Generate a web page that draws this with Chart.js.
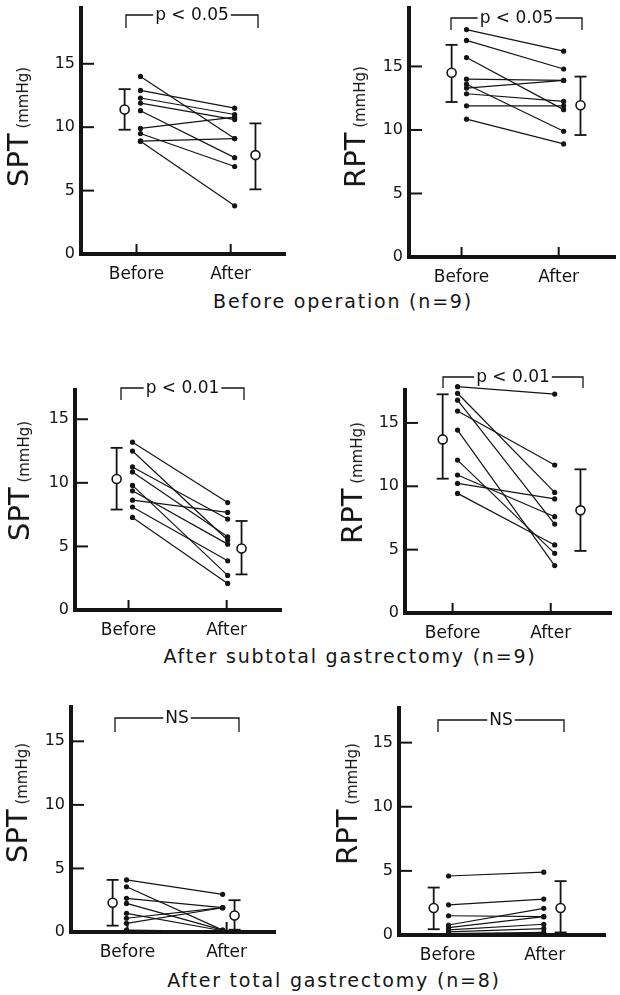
<!DOCTYPE html>
<html>
<head>
<meta charset="utf-8">
<script src="https://cdn.jsdelivr.net/npm/chart.js@4.4.1/dist/chart.umd.min.js"></script>
<style>
  body { margin: 0; background: #fff; }
  #page { position: relative; width: 620px; height: 995px; overflow: hidden; color: #141414;
          font-family: "DejaVu Sans", sans-serif; }
  #page canvas { position: absolute; }
  .cap { position: absolute; font-size: 19px; letter-spacing: 1.8px; white-space: nowrap;
         transform: translate(-50%, -50%); }
  .ytitle { position: absolute; font-size: 29px; line-height: 29px; white-space: nowrap;
            transform: translate(-50%, -50%) rotate(-90deg); }
  .ytitle span { font-size: 15px; }
</style>
</head>
<body>
<div id="page">
  <div class="cap" style="left:343px;top:301px">Before operation (n=9)</div>
  <div class="cap" style="left:350px;top:656px">After subtotal gastrectomy (n=9)</div>
  <div class="cap" style="left:334px;top:980px">After total gastrectomy (n=8)</div>
</div>
<script>
const periods = ["Before", "After"];
const yTicks = [0, 5, 10, 15];

// before operation (n=9)
const sptPreBefore = [14.0, 12.9, 12.3, 11.9, 11.3, 9.9, 9.5, 8.9, 8.9];
const sptPreAfter  = [9.1, 11.5, 11.0, 10.6, 7.6, 10.8, 6.9, 9.1, 3.8];
const sptPreLo   = [9.8, 5.1];
const sptPreMean = [11.4, 7.8];
const sptPreHi   = [13.0, 10.3];

const rptPreBefore = [17.9, 17.05, 15.7, 14.0, 13.6, 13.3, 12.85, 11.9, 10.85];
const rptPreAfter  = [16.2, 14.8, 11.6, 13.9, 9.9, 13.9, 12.25, 11.9, 8.9];
const rptPreLo   = [12.2, 9.6];
const rptPreMean = [14.5, 11.95];
const rptPreHi   = [16.7, 14.2];

// after subtotal gastrectomy (n=9)
const sptSubBefore = [13.2, 12.5, 11.25, 10.86, 9.8, 9.37, 8.64, 8.1, 7.28];
const sptSubAfter  = [8.45, 5.5, 7.15, 5.76, 2.72, 5.18, 7.67, 3.87, 2.09];
const sptSubLo   = [7.9, 2.8];
const sptSubMean = [10.3, 4.84];
const sptSubHi   = [12.75, 7.0];

const rptSubBefore = [17.86, 17.34, 16.8, 15.94, 14.44, 12.07, 10.89, 10.23, 9.44];
const rptSubAfter  = [17.28, 9.52, 7.02, 11.68, 3.74, 4.71, 7.6, 9.0, 5.37];
const rptSubLo   = [10.6, 4.9];
const rptSubMean = [13.7, 8.1];
const rptSubHi   = [17.26, 11.34];

// after total gastrectomy (n=8)
const sptTotBefore = [4.1, 3.56, 2.65, 2.25, 1.47, 1.08, 0.68, 0.15];
const sptTotAfter  = [2.96, 0.15, 1.91, 0.15, 0.1, 1.91, 1.91, 0.05];
const sptTotLo   = [0.5, 0.18];
const sptTotMean = [2.3, 1.3];
const sptTotHi   = [4.1, 2.5];

const rptTotBefore = [4.6, 2.35, 1.5, 0.78, 0.57, 0.4, 0.25, 0.1];
const rptTotAfter  = [4.9, 2.8, 1.43, 2.08, 1.43, 0.84, 0.5, 0.2];
const rptTotLo   = [0.45, 0.2];
const rptTotMean = [2.1, 2.1];
const rptTotHi   = [3.7, 4.2];

const INK = "#141414";
const FONT = '"DejaVu Sans", sans-serif';

// page pixel geometry of each panel (axes box, ticks, marks, bracket, title)
const panels = [
  { title: "SPT", before: sptPreBefore, after: sptPreAfter, lo: sptPreLo, mean: sptPreMean, hi: sptPreHi, label: "p < 0.05",
    g: { L: 81, R: 287, T: 8, B: 254, yMax: 19.4, tickB: 137, tickA: 232, dataB: 141, dataA: 236, meanB: 125, meanA: 257,
         brL: 126, brR: 258, brTop: 15, brBot: 28, titleX: 31, titleY: 127 } },
  { title: "RPT", before: rptPreBefore, after: rptPreAfter, lo: rptPreLo, mean: rptPreMean, hi: rptPreHi, label: "p < 0.05",
    g: { L: 409, R: 617, T: 8, B: 257, yMax: 19.6, tickB: 462, tickA: 560, dataB: 467, dataA: 565, meanB: 452, meanA: 582,
         brL: 451, brR: 582, brTop: 18, brBot: 30, titleX: 368, titleY: 127 } },
  { title: "SPT", before: sptSubBefore, after: sptSubAfter, lo: sptSubLo, mean: sptSubMean, hi: sptSubHi, label: "p < 0.01",
    g: { L: 75, R: 283, T: 390, B: 610, yMax: 17.3, tickB: 129, tickA: 228, dataB: 133, dataA: 229, meanB: 117, meanA: 243,
         brL: 121, brR: 244, brTop: 388, brBot: 400, titleX: 32, titleY: 481 } },
  { title: "RPT", before: rptSubBefore, after: rptSubAfter, lo: rptSubLo, mean: rptSubMean, hi: rptSubHi, label: "p < 0.01",
    g: { L: 405, R: 613, T: 390, B: 613, yMax: 17.6, tickB: 453, tickA: 552, dataB: 458, dataA: 556, meanB: 443, meanA: 582,
         brL: 443, brR: 583, brTop: 377, brBot: 388, titleX: 365, titleY: 483 } },
  { title: "SPT", before: sptTotBefore, after: sptTotAfter, lo: sptTotLo, mean: sptTotMean, hi: sptTotHi, label: "NS",
    g: { L: 71, R: 277, T: 707, B: 932, yMax: 17.7, tickB: 128, tickA: 228, dataB: 127, dataA: 224, meanB: 113, meanA: 236,
         brL: 115, brR: 239, brTop: 718, brBot: 732, titleX: 30, titleY: 803 } },
  { title: "RPT", before: rptTotBefore, after: rptTotAfter, lo: rptTotLo, mean: rptTotMean, hi: rptTotHi, label: "NS",
    g: { L: 399, R: 607, T: 708, B: 935, yMax: 17.7, tickB: 448, tickA: 546, dataB: 449, dataA: 545, meanB: 434, meanA: 562,
         brL: 438, brR: 564, brTop: 720, brBot: 732, titleX: 360, titleY: 804 } },
];

// inward ticks and the significance bracket
const decor = {
  id: "decor",
  afterDraw(chart, args, o) {
    const { ctx, chartArea: a, scales: { x, y } } = chart;
    const seg = (x1, y1, x2, y2) => { ctx.beginPath(); ctx.moveTo(x1, y1); ctx.lineTo(x2, y2); ctx.stroke(); };
    ctx.save();
    ctx.strokeStyle = INK;
    ctx.fillStyle = INK;
    ctx.lineWidth = 2;
    yTicks.slice(1).forEach(v => { const py = y.getPixelForValue(v); seg(a.left, py, a.left + 13, py); });
    [1, 2].forEach(v => { const px = x.getPixelForValue(v); seg(px, a.bottom, px, a.bottom - 10); });

    const bl = o.brL - o.left, br = o.brR - o.left, bt = o.brTop - o.top, bb = o.brBot - o.top;
    ctx.font = "17px " + FONT;
    const w = ctx.measureText(o.label).width;
    const cx = (bl + br) / 2;
    ctx.lineWidth = 1.3;
    ctx.beginPath();
    ctx.moveTo(bl, bb); ctx.lineTo(bl, bt); ctx.lineTo(cx - w / 2 - 2, bt);
    ctx.moveTo(cx + w / 2 + 2, bt); ctx.lineTo(br, bt); ctx.lineTo(br, bb);
    ctx.stroke();
    ctx.textAlign = "center";
    ctx.textBaseline = "middle";
    ctx.fillText(o.label, cx, bt + 1);
    ctx.restore();
  }
};

const page = document.getElementById("page");

panels.forEach(p => {
  const g = p.g;
  const left = g.L - 68;
  const top = Math.min(g.T, g.brTop) - 25;
  const width = g.R - left + 6;
  const height = g.B - top + 45;
  const cv = document.createElement("canvas");
  cv.width = width; cv.height = height;
  cv.style.left = left + "px"; cv.style.top = top + "px";
  cv.style.width = width + "px"; cv.style.height = height + "px";
  page.appendChild(cv);

  // axis title: large symbol, small unit, baseline on titleX
  const t = document.createElement("div");
  t.className = "ytitle";
  t.innerHTML = p.title + "<span> (mmHg)</span>";
  t.style.left = (g.titleX - 10) + "px";
  t.style.top = g.titleY + "px";
  page.appendChild(t);

  const unit = g.tickA - g.tickB;
  const toX = px => 1 + (px - g.tickB) / unit;
  const xB = toX(g.dataB), xA = toX(g.dataA);
  const xm = [toX(g.meanB), toX(g.meanA)];

  const datasets = [];
  datasets.push({
    data: xm.map((xv, i) => ({ x: xv, y: p.mean[i] })),
    showLine: false, pointRadius: 4.5, pointBackgroundColor: "#fff",
    pointBorderColor: INK, pointBorderWidth: 1.6, order: 0, clip: false
  });
  xm.forEach((xv, i) => datasets.push({
    data: [{ x: xv, y: p.lo[i] }, { x: xv, y: p.hi[i] }],
    borderColor: INK, borderWidth: 1.8, pointStyle: "line", pointRadius: 6,
    pointBorderColor: INK, pointBorderWidth: 1.8, order: 1, clip: false
  }));
  p.before.forEach((v, i) => datasets.push({
    data: [{ x: xB, y: v }, { x: xA, y: p.after[i] }],
    borderColor: INK, borderWidth: 1.2, pointRadius: 2.6, pointBackgroundColor: INK,
    pointBorderWidth: 0, order: 2, clip: false
  }));

  new Chart(cv, {
    type: "line",
    data: { datasets },
    options: {
      responsive: false,
      animation: false,
      devicePixelRatio: 1,
      layout: { padding: { top: g.T - top, right: 6, left: 0, bottom: 0 } },
      plugins: {
        legend: { display: false },
        tooltip: { enabled: false },
        decor: Object.assign({ left, top, label: p.label }, g)
      },
      scales: {
        x: {
          type: "linear",
          min: 1 - (g.tickB - g.L) / unit,
          max: 2 + (g.R - g.tickA) / unit,
          afterFit(s) { s.height = 45; },
          afterBuildTicks(s) { s.ticks = [{ value: 1 }, { value: 2 }]; },
          grid: { display: false, drawTicks: false },
          border: { color: INK, width: 4 },
          ticks: { callback: (v, i) => periods[i], font: { size: 17, family: FONT }, color: INK,
                   padding: 10, maxRotation: 0, autoSkip: false }
        },
        y: {
          min: 0,
          max: g.yMax,
          afterFit(s) { s.width = 68; },
          afterBuildTicks(s) { s.ticks = yTicks.map(v => ({ value: v })); },
          grid: { display: false, drawTicks: false },
          border: { color: INK, width: 4 },
          ticks: { font: { size: 16, family: FONT }, color: INK, padding: 6, autoSkip: false }
        }
      }
    },
    plugins: [decor]
  });
});
</script>
</body>
</html>
